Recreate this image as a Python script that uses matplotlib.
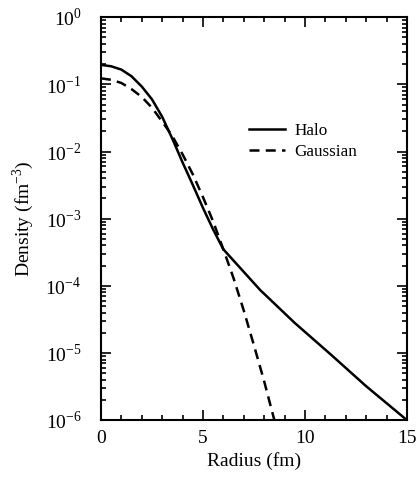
import numpy as np
import matplotlib
matplotlib.use("Agg")
import matplotlib.pyplot as plt
from matplotlib.ticker import LogLocator, MultipleLocator, NullFormatter

# values (density in fm^-3)
halo_r = [0.0, 0.5, 1.0, 1.5, 2.0, 2.5, 3.0, 3.5, 4.0, 4.5, 5.0, 5.5, 6.0,
          7.8, 9.5, 11.3, 13.0, 15.0]
halo_rho = [0.195, 0.186, 0.166, 0.132, 0.093, 0.060, 0.033, 0.0155, 0.0069,
            0.0032, 0.00145, 0.00069, 0.00035, 8.7e-5, 2.8e-5, 9.3e-6,
            3.2e-6, 1.0e-6]

gauss_r = [0.0, 0.5, 1.0, 1.5, 2.0, 2.5, 3.0, 3.5, 4.0, 4.5, 5.0, 5.5, 6.0,
           6.5, 7.0, 7.5, 8.0, 8.5]
gauss_rho = [0.123, 0.117, 0.105, 0.085, 0.065, 0.045, 0.028, 0.017, 0.0091,
             0.0046, 0.0021, 0.00091, 0.00035, 0.00013, 4.3e-5, 1.3e-5,
             3.8e-6, 1.0e-6]

x_ticks = [0, 5, 10, 15]
y_ticks = [1e-6, 1e-5, 1e-4, 1e-3, 1e-2, 1e-1, 1]
y_labels = ['10$^{-6}$', '10$^{-5}$', '10$^{-4}$', '10$^{-3}$',
            '10$^{-2}$', '10$^{-1}$', '10$^{0}$']

plt.rcParams['font.family'] = ['Liberation Serif', 'DejaVu Serif']
plt.rcParams['mathtext.fontset'] = 'custom'
plt.rcParams['mathtext.rm'] = 'Liberation Serif'

fig = plt.figure(figsize=(4.17, 4.78), dpi=100)
ax = fig.add_axes([0.242, 0.121, 0.734, 0.843])

ax.plot(halo_r, halo_rho, color='black', lw=1.8, label='Halo')
ax.plot(gauss_r, gauss_rho, color='black', lw=1.8, ls=(0, (4, 2.5)),
        label='Gaussian')

ax.set_yscale('log')
ax.set_xlim(0, 15)
ax.set_ylim(1e-6, 1)
ax.set_xticks(x_ticks)
ax.xaxis.set_minor_locator(MultipleLocator(1))
ax.set_yticks(y_ticks)
ax.set_yticklabels(y_labels)
ax.yaxis.set_minor_locator(LogLocator(base=10, subs=np.arange(2, 10), numticks=10))
ax.yaxis.set_minor_formatter(NullFormatter())

ax.tick_params(which='both', direction='in', top=True, right=True,
               labelsize=14, width=1.2)
ax.tick_params(which='major', length=7)
ax.tick_params(which='minor', length=3.5)
ax.tick_params(axis='x', pad=7)
ax.tick_params(axis='y', pad=14)
for s in ax.spines.values():
    s.set_linewidth(1.5)

ax.set_xlabel('Radius (fm)', fontsize=14, labelpad=4)
ax.set_ylabel('Density (fm$^{-3}$)', fontsize=14, labelpad=7)

ax.legend(loc='upper left', bbox_to_anchor=(0.435, 0.775), frameon=False,
          fontsize=12.3, handlelength=2.1, handletextpad=0.55,
          labelspacing=0.3)

fig.savefig('out.png', dpi=100)
